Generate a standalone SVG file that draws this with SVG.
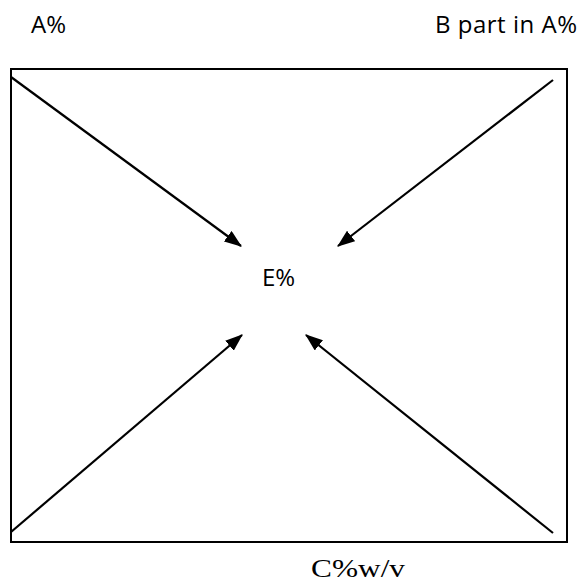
<svg xmlns="http://www.w3.org/2000/svg" width="583" height="582" viewBox="0 0 583 582">
<style>
.lbl{font-family:"Open Sans","Liberation Sans",sans-serif;font-size:24px;fill:#000}
.ser{font-family:"Liberation Serif",serif;font-size:26px;fill:#000}
.ln{stroke:#000;stroke-width:2.2;fill:none;marker-end:url(#ah)}
</style>
<defs>
<marker id="ah" markerWidth="8" markerHeight="6" refX="7.5" refY="3" orient="auto" markerUnits="strokeWidth">
<path d="M0,0 L8,3 L0,6 Z" fill="#000"/>
</marker>
</defs>
<g id="frame"><rect x="11" y="69" width="556" height="473" fill="#fff" stroke="#000" stroke-width="2"/></g>
<g id="connectors">
<line class="ln" x1="11" y1="77" x2="241" y2="246"/>
<line class="ln" x1="553" y1="80" x2="338" y2="246"/>
<line class="ln" x1="11" y1="532" x2="242" y2="335"/>
<line class="ln" x1="553" y1="533" x2="306" y2="335"/>
</g>
<g id="nodeA"><text class="lbl" x="31" y="33">A%</text></g>
<g id="nodeB"><text class="lbl" x="435" y="33" textLength="142">B part in A%</text></g>
<g id="nodeE"><text class="lbl" x="262" y="286">E%</text></g>
<g id="nodeC"><text class="ser" x="311" y="577" textLength="94" lengthAdjust="spacingAndGlyphs">C%w/v</text></g>
</svg>
